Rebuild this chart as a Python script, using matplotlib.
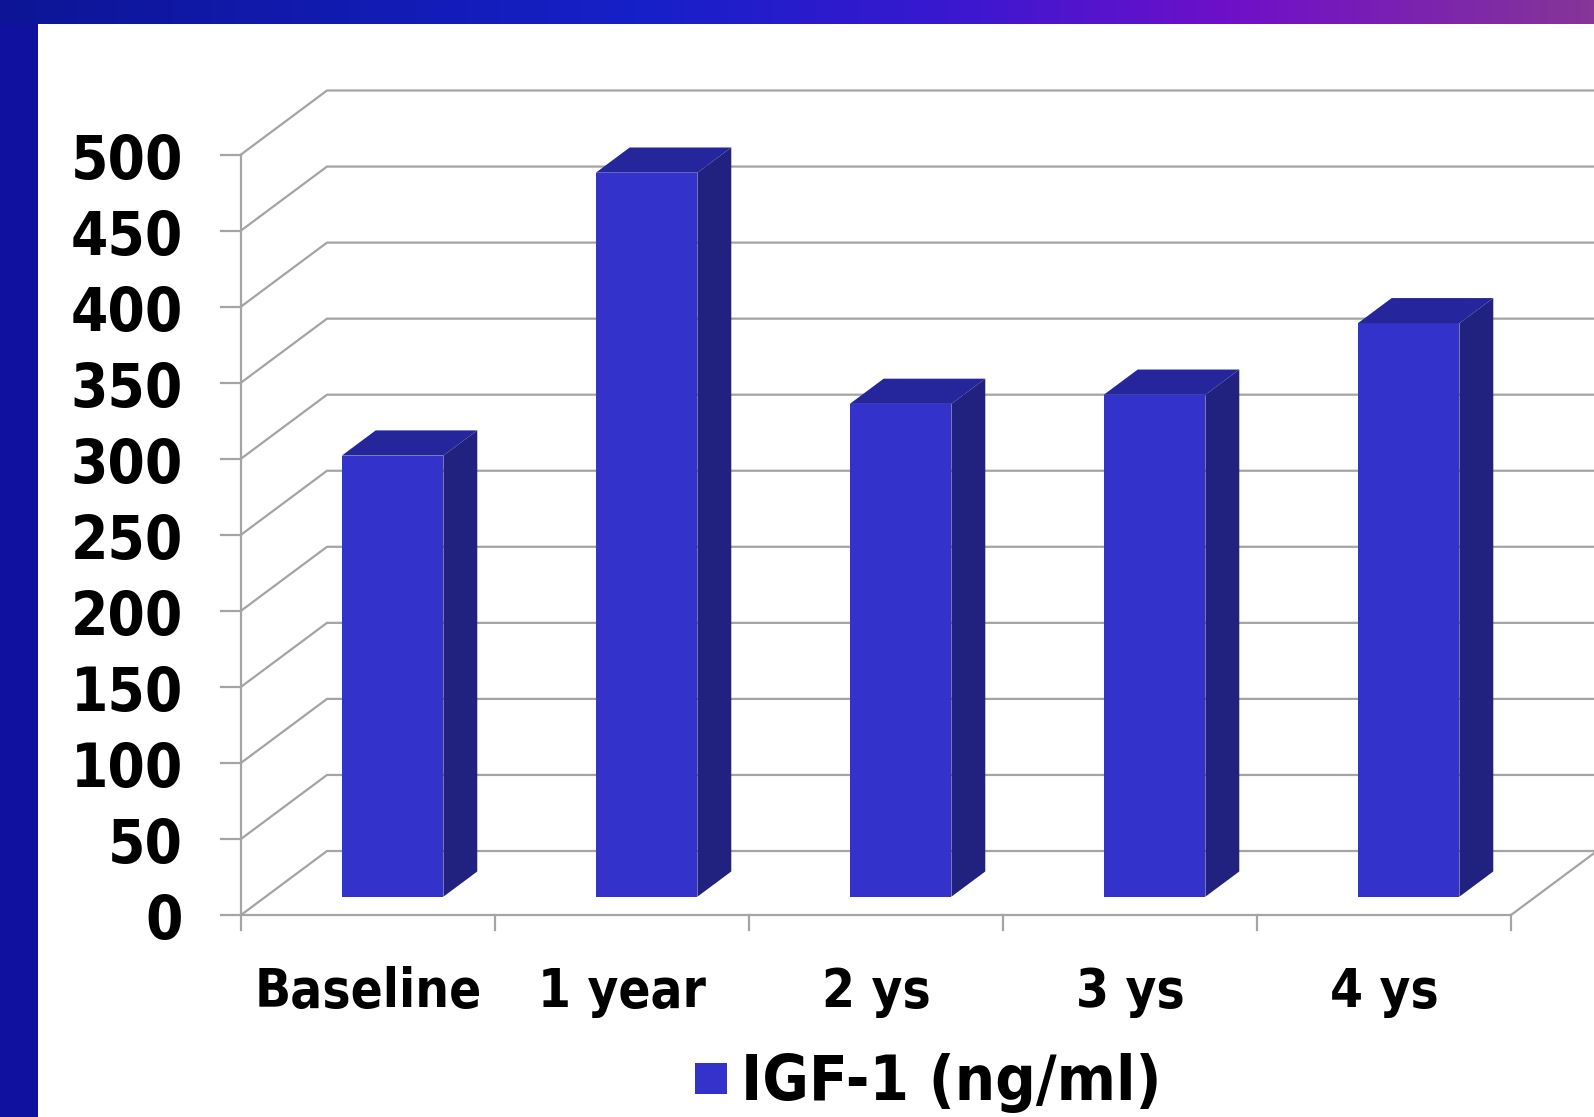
import matplotlib
matplotlib.use('Agg')
import matplotlib.pyplot as plt
import numpy as np
from matplotlib.patches import Polygon, Rectangle
from matplotlib.colors import LinearSegmentedColormap

# ---- data ----
categories = ['Baseline', '1 year', '2 ys', '3 ys', '4 ys']
igf1 = [290, 476, 324, 330, 377]
y_ticks = [0, 50, 100, 150, 200, 250, 300, 350, 400, 450, 500]
series_name = 'IGF-1 (ng/ml)'

# ---- figure ----
W, H = 1594, 1117
DPI = 100
fig = plt.figure(figsize=(W / DPI, H / DPI), dpi=DPI)
fig.patch.set_facecolor('white')

# pixel geometry of the pseudo-3D plot
X0, CW = 241.0, 254.0      # px of category 0 (front), px per category
Y0, YS = 915.0, 1.521      # px of value 0 (front), px per unit
DXP, DYP = 86.0, 64.0      # depth offset in px

ax = fig.add_axes([0, 0, 1, 1])
ax.set_xlim((0 - X0) / CW, (W - X0) / CW)
ax.set_ylim((Y0 - H) / YS, Y0 / YS)
ax.axis('off')


def px(x):
    return (x - X0) / CW


def py(y):
    return (Y0 - y) / YS


ddx = DXP / CW
ddy = DYP / YS
n = len(categories)
grid_c = '#A4A4A4'
FONT = dict(family=['DejaVu Sans Condensed', 'DejaVu Sans'], weight='bold',
            stretch='condensed', color='black')

# walls / grid
for v in y_ticks:
    ax.plot([0, ddx, n + ddx], [v, v + ddy, v + ddy], color=grid_c, lw=1.6,
            zorder=1, solid_joinstyle='miter')
    ax.plot([px(221), 0], [v, v], color=grid_c, lw=1.6, zorder=1)
    ax.text(px(183), v - 24 / YS, str(v), ha='right', va='baseline',
            fontsize=43, **FONT)

# floor and front axes
ax.plot([0, n, n + ddx], [0, 0, ddy], color=grid_c, lw=1.6, zorder=1)
ax.plot([0, 0], [0, y_ticks[-1]], color=grid_c, lw=1.6, zorder=1)
for i in range(n + 1):
    ax.plot([i, i], [0, -15 / YS], color=grid_c, lw=1.6, zorder=1)

# bars
f0, f1 = 0.286, 0.68
bw0, bw1 = 0.30, 0.70
front_c, side_c, top_c = '#3333CC', '#21217F', '#25259C'
for i, v in enumerate(igf1):
    xl = i + bw0 + f0 * ddx
    xr = i + bw1 + f0 * ddx
    yb = f0 * ddy
    ax.add_patch(Rectangle((xl, yb), xr - xl, v, facecolor=front_c,
                           edgecolor='none', zorder=3))
    sx = (f1 - f0) * ddx
    sy = (f1 - f0) * ddy
    ax.add_patch(Polygon([(xr, yb), (xr + sx, yb + sy), (xr + sx, yb + sy + v),
                          (xr, yb + v)], closed=True, facecolor=side_c,
                         edgecolor='none', zorder=3))
    ax.add_patch(Polygon([(xl, yb + v), (xr, yb + v), (xr + sx, yb + sy + v),
                          (xl + sx, yb + sy + v)], closed=True, facecolor=top_c,
                         edgecolor='none', zorder=3))

# category labels
for i, c in enumerate(categories):
    ax.text(i + 0.5, py(1007), c, ha='center', va='baseline', fontsize=38,
            **FONT)

# legend
ax.add_patch(Rectangle((px(695), py(1094)), (727 - 695) / CW, (1094 - 1063) / YS,
                       facecolor=front_c, edgecolor='none', zorder=3))
ax.text(px(741), py(1100), series_name, ha='left', va='baseline', fontsize=45.5,
        **FONT)

# ---- decoration: top banner and left bar ----
bh = 24
bax = fig.add_axes([0, 1 - bh / H, 1, bh / H])
cmap = LinearSegmentedColormap.from_list(
    'banner', [(0.0, '#0D1595'), (0.4, '#1620C8'), (0.6, '#3A18D0'),
               (0.78, '#7010C8'), (1.0, '#863598')])
bax.imshow(np.linspace(0, 1, 512)[None, :], cmap=cmap, aspect='auto',
           extent=[0, 1, 0, 1])
bax.axis('off')
fig.patches.append(Rectangle((0, 0), 38 / W, 1 - bh / H, transform=fig.transFigure,
                             facecolor='#1111A0', edgecolor='none'))

fig.savefig('out.png', dpi=DPI, facecolor='white')
